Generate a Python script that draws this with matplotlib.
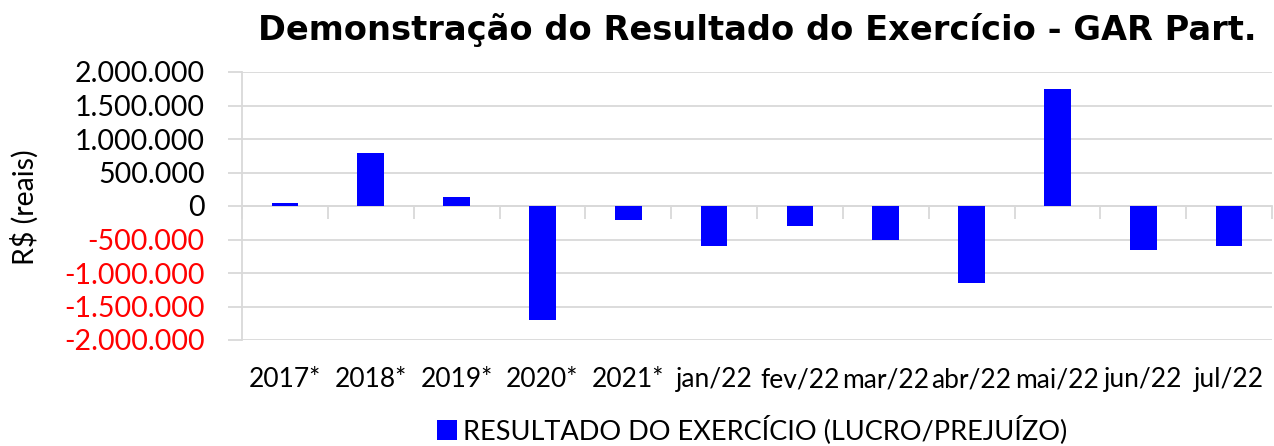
import matplotlib
matplotlib.use("Agg")
import matplotlib.pyplot as plt
import matplotlib.transforms as mtransforms
from matplotlib.patches import Patch
import numpy as np


categories = ["2017*", "2018*", "2019*", "2020*", "2021*", "jan/22", "fev/22",
              "mar/22", "abr/22", "mai/22", "jun/22", "jul/22"]
resultado = [50000, 795000, 130000, -1705000, -215000, -600000, -295000,
             -510000, -1150000, 1740000, -650000, -600000]
y_ticks = [-2000000, -1500000, -1000000, -500000, 0, 500000, 1000000, 1500000, 2000000]

title = "Demonstração do Resultado do Exercício - GAR Part."
serie_label = "RESULTADO DO EXERCÍCIO (LUCRO/PREJUÍZO)"

grid_col = "#d9d9d9"
bar_col = "#0000ff"

fig = plt.figure(figsize=(12.74, 4.46), dpi=100)
ax = fig.add_axes([242 / 1274, 1 - 340 / 446, 1030 / 1274, 268 / 446])

x = np.arange(len(categories))
ax.bar(x, resultado, width=0.31, color=bar_col, zorder=3)

ax.set_xlim(-0.5, len(categories) - 0.5)
ax.set_ylim(y_ticks[0], y_ticks[-1])

# eixo y
ax.set_yticks(y_ticks)
ax.set_yticklabels([f"{v:,.0f}".replace(",", ".") for v in y_ticks],
                   fontfamily="Lato", fontsize=20.5)
for lab, v in zip(ax.get_yticklabels(), y_ticks):
    lab.set_color("red" if v < 0 else "black")
ax.tick_params(axis="y", length=10, width=1.3, color=grid_col, pad=17)
ax.yaxis.grid(True, color=grid_col, lw=1.3, zorder=0)

# eixo x no zero
ax.spines["bottom"].set_position(("data", 0))
ax.spines["bottom"].set_color(grid_col)
ax.spines["bottom"].set_linewidth(1.3)
ax.spines["left"].set_color(grid_col)
ax.spines["left"].set_linewidth(1.3)
ax.spines["top"].set_visible(False)
ax.spines["right"].set_visible(False)
ax.set_xticks([])
ax.set_xticks(np.arange(len(categories) + 1) - 0.5, minor=True)
ax.tick_params(axis="x", which="minor", length=9, width=1.3, color=grid_col,
               direction="out", labelbottom=False)

trans = mtransforms.blended_transform_factory(ax.transData, ax.transAxes)
for xi, cat in zip(x, categories):
    ax.text(xi, -0.149, cat, transform=trans, ha="center", va="center",
            fontfamily="Lato", fontsize=19)

fig.text(25 / 1274, 1 - 207 / 446, "R$ (reais)", rotation=90, ha="center",
         va="center", fontfamily="Lato", fontsize=20.5)

fig.text(757 / 1274, 1 - 30 / 446, title, ha="center", va="center",
         fontfamily="DejaVu Sans", fontweight="bold", fontsize=24.2)

fig.legend(handles=[Patch(facecolor=bar_col, label=serie_label)],
           loc="center", bbox_to_anchor=(752 / 1274, 1 - 430 / 446),
           frameon=False, prop={"family": "Lato", "size": 19.5},
           handlelength=0.75, handleheight=0.75, handletextpad=0.2,
           borderpad=0, borderaxespad=0)

fig.savefig("out.png", dpi=100)
